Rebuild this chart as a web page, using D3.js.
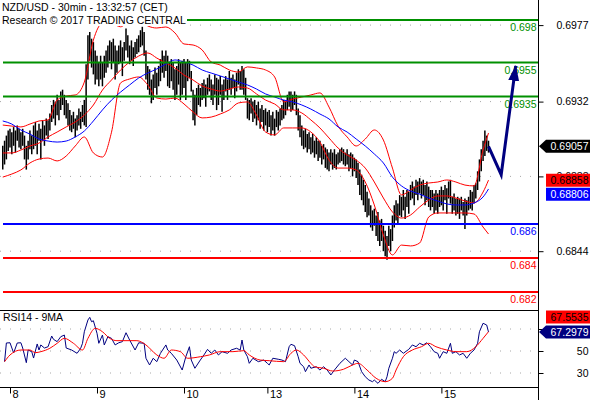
<!DOCTYPE html>
<html><head><meta charset="utf-8">
<script src="https://cdn.jsdelivr.net/npm/d3@7"></script>
<style>body{margin:0;background:#fff}svg{display:block;font-family:"Liberation Sans",Arial,sans-serif}</style>
</head><body><svg id="c" width="590" height="400"></svg>
<script>
// ---- data (prices in 1/10000 units) ----
const barHigh = [
6906,6909,6912,6915,6916,6914,6917,6915,6918,6916,
6914,6916,6912,6906,6909,6915,6912,6918,6920,6915,
6919,6916,6921,6918,6922,6921,6925,6930,6933,6932,
6936,6933,6938,6939,6936,6933,6931,6927,6924,6926,
6922,6924,6928,6926,6930,6933,6954,6971,6973,6969,
6967,6962,6959,6955,6959,6955,6959,6962,6965,6968,
6967,6969,6965,6962,6965,6968,6964,6967,6975,6971,
6965,6968,6964,6967,6969,6971,6974,6976,6973,6962,
6953,6951,6945,6948,6952,6949,6953,6957,6962,6959,
6962,6959,6955,6957,6955,6951,6953,6957,6955,6956,
6957,6955,6957,6956,6950,6939,6936,6940,6942,6940,
6943,6945,6942,6946,6948,6945,6942,6948,6946,6945,
6947,6942,6945,6947,6945,6950,6946,6948,6945,6949,
6951,6950,6953,6951,6946,6934,6933,6934,6932,6933,
6930,6932,6928,6930,6927,6928,6926,6927,6924,6926,
6922,6927,6926,6928,6930,6933,6932,6936,6938,6938,
6936,6938,6936,6928,6924,6918,6915,6916,6913,6914,
6911,6913,6909,6911,6909,6909,6906,6907,6905,6904,
6902,6904,6902,6904,6901,6902,6904,6905,6904,6902,
6904,6901,6902,6901,6899,6898,6896,6892,6889,6886,
6883,6879,6875,6871,6868,6869,6865,6867,6862,6863,
6859,6856,6853,6859,6857,6865,6871,6874,6872,6877,
6876,6880,6876,6880,6879,6883,6885,6882,6886,6885,
6887,6885,6886,6883,6885,6882,6880,6880,6878,6880,
6878,6880,6882,6880,6883,6881,6885,6886,6876,6878,
6875,6876,6875,6876,6873,6875,6874,6876,6880,6879,
6883,6884,6891,6898,6904,6909,6915,6912,6909];
const barLow = [
6892,6895,6898,6903,6905,6901,6906,6902,6909,6905,
6904,6906,6898,6892,6898,6904,6901,6904,6906,6901,
6909,6898,6909,6906,6912,6910,6915,6920,6922,6918,
6924,6921,6927,6930,6924,6922,6918,6915,6914,6916,
6911,6915,6918,6916,6920,6918,6917,6945,6956,6952,
6948,6942,6945,6941,6945,6941,6946,6949,6952,6956,
6951,6955,6945,6949,6954,6955,6947,6956,6962,6958,
6954,6956,6953,6958,6960,6961,6964,6965,6959,6945,
6939,6936,6931,6933,6940,6936,6941,6944,6949,6946,
6950,6941,6940,6944,6939,6933,6936,6942,6933,6936,
6940,6933,6944,6946,6938,6921,6918,6924,6930,6929,
6933,6934,6929,6936,6938,6933,6930,6936,6927,6930,
6936,6926,6933,6938,6933,6939,6936,6940,6934,6938,
6942,6939,6939,6936,6933,6922,6921,6925,6920,6922,
6918,6921,6916,6920,6915,6918,6914,6917,6912,6915,
6912,6917,6915,6918,6921,6922,6924,6927,6929,6926,
6927,6930,6924,6915,6911,6906,6904,6905,6902,6904,
6901,6902,6899,6901,6897,6899,6895,6898,6893,6892,
6891,6895,6892,6893,6892,6895,6896,6897,6895,6894,
6895,6891,6893,6888,6891,6887,6883,6877,6874,6871,
6867,6864,6865,6858,6856,6859,6853,6850,6847,6850,
6844,6841,6839,6847,6844,6850,6858,6862,6860,6865,
6864,6868,6863,6870,6866,6874,6875,6871,6877,6874,
6878,6875,6877,6871,6874,6870,6868,6870,6866,6868,
6866,6870,6871,6868,6874,6866,6875,6872,6866,6868,
6865,6866,6863,6868,6865,6857,6865,6868,6869,6868,
6872,6875,6880,6885,6891,6897,6900,6903,6902];
const lastClose = 0.69057;

const indBars = [0,5,10,15,20,25,30,35,40,45,50,55,60,65,70,75,80,85,90,95,100,105,110,115,120,125,130,135,140,145,150,155,160,165,170,175,180,185,190,195,200,205,210,215,220,225,230,235,240,245,250,255,260,265,268];
const bbUpper = [6918.2,6917.6,6917.1,6918.8,6920.6,6921.2,6932.9,6935.3,6935.9,6943.5,6968.2,6978,6978,6976,6980,6981.2,6976.5,6975.3,6975.9,6972.4,6965.9,6965.3,6962.4,6955.3,6953.5,6950.6,6949.4,6952.4,6951.8,6950.6,6946.5,6931.8,6933.5,6934.7,6935.9,6937.1,6928.8,6917.6,6911.2,6905.9,6910,6915.3,6909.4,6892.9,6877.1,6880,6882.9,6884.1,6884.7,6885.9,6884.7,6882.9,6882.4,6903.5,6913.5];
const bbMiddle = [6901.8,6901.8,6903.5,6905.9,6907.6,6911.2,6914.1,6917.1,6920,6924.1,6930,6938.8,6944.7,6950.6,6955.3,6958.8,6960.6,6957.6,6954.7,6951.8,6947.6,6944.7,6941.2,6939.4,6938.2,6939.4,6940.6,6940,6936.5,6932.9,6930.6,6927.1,6927.1,6925.3,6921.2,6916.5,6910.6,6904.7,6900.6,6897.6,6892.9,6884.7,6875.3,6867.1,6863.5,6865.3,6870,6874.1,6876.5,6876.5,6875.3,6873.5,6872.4,6878.8,6885.8];
const bbLower = [6887.6,6889.4,6891.8,6895.9,6898.2,6898.8,6897.1,6900,6905.9,6911.2,6901.8,6899.4,6914,6943,6945.3,6946.5,6941.8,6934.1,6933.5,6934.1,6930.6,6925.9,6922.4,6922.9,6924.7,6927.1,6931.2,6931.8,6924.1,6914.1,6912.4,6916.5,6916.5,6916.5,6914.1,6908.2,6897.6,6892.9,6892.9,6891.8,6884.7,6871.2,6853.5,6841.8,6847.6,6847.1,6848.8,6864.1,6866.5,6866.5,6866.5,6866.5,6865.9,6858.2,6854.1];
const maLine = [6920.6,6918.8,6915.3,6912.9,6910,6908.8,6908.2,6908.8,6911.2,6914.7,6920.6,6927.1,6932.9,6937.6,6941.8,6945.9,6948.8,6951.2,6954.1,6956.5,6955.3,6953.5,6950.6,6948.8,6947.1,6945.3,6943.5,6941.8,6939.4,6936.5,6934.7,6932.9,6931.8,6930,6927.6,6924.7,6921.8,6917.1,6914.1,6910,6905.9,6901.2,6895.9,6887.6,6882.4,6879.4,6877.6,6875.3,6873.5,6871.8,6871.2,6871.2,6872.4,6875.9,6880.6];

const rsiBars = [1,2,4,6,8,10,11,13,14,16,17,19,20,21,23,25,27,28,30,32,34,35,38,41,43,44,45,47,48,49,50,52,53,55,56,58,60,62,64,66,68,70,73,75,78,79,81,83,85,87,90,91,93,96,99,101,103,104,106,109,111,113,115,117,119,121,124,126,129,131,132,133,135,136,138,141,144,146,147,149,152,154,156,158,159,161,163,164,166,167,169,170,173,175,177,179,181,183,186,189,191,193,194,196,198,200,202,204,205,207,209,211,212,213,215,216,217,219,221,224,226,228,230,232,234,236,238,240,241,243,245,247,248,250,252,254,256,258,260,262,263,265,267,268];
const rsiVals = [40.3,57.3,57.5,48.2,57.3,57.5,52.7,39.4,50.9,49.4,43.6,56.4,50.9,55.5,52.7,53.9,63.6,60.6,58.5,63,64.5,52.7,50.9,47.9,52.5,57,67.5,78.2,80.6,76.6,77.5,66.1,57,64.5,55.5,63,61.5,55.5,57.5,58.5,66.6,60,50.9,57.5,57,43.4,37.3,43.4,40.3,47.9,55.5,50.9,47.9,41.8,32.7,44.8,53.9,41.8,34.3,41.8,46.4,51.5,47.9,50.9,46.4,49.4,47.9,50.9,52.5,50.9,60,50.9,44.8,38.8,43.4,40.3,41.8,38.8,37.3,43.4,42.5,41.8,40.3,53.9,56.1,54.8,44.8,38.8,35.7,31.2,37.3,34.3,35.7,32.7,35.7,32.7,28.2,32.7,38.8,43.4,40.3,37.3,41.8,40.3,31.2,26.6,23.6,22.1,23.6,20.6,24.3,22.1,26.6,34.3,43.4,49.4,47.9,50.9,47.9,51.5,55.5,53.9,57,55.5,57.5,53.9,49.4,47.9,43.4,49.4,47.9,57,47.9,49.4,46.4,47.9,43.4,47.9,50.9,57,67.5,75.2,73.6,67.2979];
const sigBars = [1,4,10,15,18,21,26,30,34,39,44,47,51,55,59,63,68,74,79,85,89,93,98,102,109,114,120,127,133,136,142,147,155,159,162,166,170,172,177,182,188,193,196,201,206,211,215,217,221,226,231,235,239,245,250,256,261,265,268];
const sigVals = [40.3,46.4,50.9,50.9,48.5,49.4,52.5,57,61.5,57,50.9,61.5,70.6,67.5,61.5,59.4,59.4,59.4,55.5,46.4,43.4,50.9,49.4,43.4,44.8,46.4,49.4,49.4,50.3,46.4,41.8,41.2,40.3,47.9,50.9,46.4,38.8,35.7,34.3,31.8,33.4,37.3,38.8,32.7,25.2,22.1,25.2,32.7,44.8,50.9,53.9,57,53.9,50.9,49.4,49.4,53.9,61.5,67.5535];

const levels = [0.698, 0.6955, 0.6935, 0.686, 0.684, 0.682];
const levelKinds = ["res","res","res","pivot","sup","sup"];
const forecastBars = [268, 275, 283];
const forecastPrices = [0.69057, 0.6889, 0.6953];

const dayBars = [4, 52, 100, 146, 194, 242];
const dayLabels = ["8","9","10","13","14","15"];
const priceTicks = [0.6977, 0.6932, 0.6888, 0.6844];
const rsiTicks = [70, 50, 30];
const rsiTickLabels = ["", "50", "30"]; // the 70 label sits under the RSI value tag

// ---- setup ----
const P = v => v / 10000;
const kindColor = {res:"#009000", pivot:"#0000ff", sup:"#ff0000"};
const svg = d3.select("#c");
const FS = "10.5px";
const x = d3.scaleLinear().domain([0, 296]).range([2.75, 539.25]);
const y = d3.scaleLinear().domain([0.698, 0.684]).range([20, 258]);
const yr = d3.scaleLinear().domain([30, 70]).range([373, 329]);
const AX = 538;

const defs = svg.append("defs");
defs.append("clipPath").attr("id","mc").append("rect").attr("x",0).attr("y",0).attr("width",AX).attr("height",310);
defs.append("clipPath").attr("id","rc").append("rect").attr("x",0).attr("y",310).attr("width",AX).attr("height",77);
defs.append("marker").attr("id","ah").attr("viewBox","0 -6 16 12").attr("refX",15).attr("refY",0)
  .attr("markerWidth",16).attr("markerHeight",12).attr("markerUnits","userSpaceOnUse").attr("orient","auto")
  .append("path").attr("d","M0,-5.5L16,0L0,5.5Z").attr("fill","#000080");

const main = svg.append("g").attr("clip-path","url(#mc)");
const rsiG = svg.append("g").attr("clip-path","url(#rc)");

// grid
main.selectAll("line.g").data(priceTicks).join("line").attr("class","g")
  .attr("x1",0).attr("x2",AX).attr("y1",d=>y(d)).attr("y2",d=>y(d))
  .attr("stroke","#a8a8a8").attr("stroke-dasharray","1,9");
rsiG.selectAll("line.g").data(rsiTicks).join("line").attr("class","g")
  .attr("x1",0).attr("x2",AX).attr("y1",d=>yr(d)).attr("y2",d=>yr(d))
  .attr("stroke","#a8a8a8").attr("stroke-dasharray","1,9");

// bars
main.append("g").selectAll("line").data(barHigh).join("line")
  .attr("x1",(d,i)=>x(i)).attr("x2",(d,i)=>x(i))
  .attr("y1",d=>y(P(d))).attr("y2",(d,i)=>y(P(barLow[i])))
  .attr("stroke","#000").attr("stroke-width",1.5);

// indicators
const ind = arr => d3.line().x((d,i)=>x(indBars[i])).y(d=>y(P(d))).curve(d3.curveMonotoneX)(arr);
[bbUpper, bbMiddle, bbLower].forEach(a => main.append("path").attr("d",ind(a)).attr("fill","none").attr("stroke","#ff0000").attr("stroke-width",1));
main.append("path").attr("d",ind(maLine)).attr("fill","none").attr("stroke","#0000ff").attr("stroke-width",1);

// levels
main.selectAll("line.lv").data(levels).join("line").attr("class","lv")
  .attr("x1",3).attr("x2",AX).attr("y1",d=>y(d)).attr("y2",d=>y(d))
  .attr("stroke",(d,i)=>kindColor[levelKinds[i]]).attr("stroke-width",2);
main.selectAll("text.lv").data(levels).join("text").attr("class","lv")
  .attr("x",536.5).attr("y",d=>y(d)+11).attr("text-anchor","end")
  .attr("font-size",FS).attr("fill",(d,i)=>kindColor[levelKinds[i]]).text(d=>String(d));

// forecast arrow
main.append("path")
  .attr("d", d3.line().x((d,i)=>x(forecastBars[i])).y(d=>y(d))(forecastPrices))
  .attr("fill","none").attr("stroke","#000080").attr("stroke-width",3).attr("stroke-linejoin","miter")
  .attr("marker-end","url(#ah)");

// title
svg.append("rect").attr("x",0).attr("y",0).attr("width",187).attr("height",26).attr("fill","#fff");
svg.append("text").attr("x",2).attr("y",11).attr("font-size",FS).text("NZD/USD - 30min - 13:32:57 (CET)");
svg.append("text").attr("x",2).attr("y",24).attr("font-size",FS).text("Research \u00A9 2017 TRADING CENTRAL");

// RSI
rsiG.append("path").attr("d", d3.line().x((d,i)=>x(rsiBars[i])).y(d=>yr(d))(rsiVals))
  .attr("fill","none").attr("stroke","#000080").attr("stroke-width",1);
rsiG.append("path").attr("d", d3.line().x((d,i)=>x(sigBars[i])).y(d=>yr(d)).curve(d3.curveMonotoneX)(sigVals))
  .attr("fill","none").attr("stroke","#ff0000").attr("stroke-width",1);
svg.append("text").attr("x",3).attr("y",321).attr("font-size",FS).text("RSI14 - 9MA");

// frame lines
svg.append("line").attr("x1",0).attr("x2",AX).attr("y1",310.5).attr("y2",310.5).attr("stroke","#000");
svg.append("line").attr("x1",0).attr("x2",AX).attr("y1",387.5).attr("y2",387.5).attr("stroke","#000");
svg.append("line").attr("x1",AX+0.5).attr("x2",AX+0.5).attr("y1",0).attr("y2",400).attr("stroke","#000");

// axes
function styleRight(g){
  g.select(".domain").remove();
  g.selectAll(".tick line").attr("stroke","#000");
  g.selectAll(".tick text").attr("x",50).attr("text-anchor","end").attr("font-size",FS)
    .attr("font-family","Liberation Sans, Arial, sans-serif").attr("fill","#000");
}
svg.append("g").attr("transform",`translate(${AX+0.5},0)`)
  .call(d3.axisRight(y).tickValues(priceTicks).tickSize(5).tickFormat(d3.format(".4f"))).call(styleRight);
svg.append("g").attr("transform",`translate(${AX+0.5},0)`)
  .call(d3.axisRight(yr).tickValues(rsiTicks).tickSize(5).tickFormat((d,i)=>rsiTickLabels[i])).call(styleRight);
const bx = svg.append("g").attr("transform","translate(0,387.5)")
  .call(d3.axisBottom(x).tickValues(dayBars).tickSize(6).tickFormat((d,i)=>dayLabels[i]));
bx.select(".domain").remove();
bx.selectAll(".tick line").attr("stroke","#000");
bx.selectAll(".tick text").attr("x",2).attr("y",3).attr("text-anchor","start").attr("font-size","11px")
  .attr("font-family","Liberation Sans, Arial, sans-serif").attr("fill","#000");

// value tags
function tag(yc, txt, fill, color, arrow){
  const t = yc - 6.5, b = yc + 6.5;
  const d = arrow ? `M539,${yc}L546,${t}L590,${t}L590,${b}L546,${b}Z` : `M546,${t}L590,${t}L590,${b}L546,${b}Z`;
  svg.append("path").attr("d",d).attr("fill",fill);
  svg.append("text").attr("x",588.5).attr("y",yc+3.8).attr("text-anchor","end").attr("font-size",FS).attr("fill",color).text(txt);
}
const fmt5 = d3.format(".5f"), fmt4 = d3.format(".4f");
const cY = y(lastClose);
const midY = y(P(bbMiddle[bbMiddle.length-1]));
const maY = Math.max(y(P(maLine[maLine.length-1])), midY + 14);
tag(cY, fmt5(lastClose), "#000", "#fff", true);
tag(midY, fmt5(P(bbMiddle[bbMiddle.length-1])), "#ff0000", "#000", false);
tag(maY, fmt5(P(maLine[maLine.length-1])), "#0000ff", "#fff", false);
const rY = yr(rsiVals[rsiVals.length-1]);
const sY = Math.min(yr(sigVals[sigVals.length-1]), rY - 15);
tag(sY, fmt4(sigVals[sigVals.length-1]), "#ff0000", "#000", false);
tag(rY, fmt4(rsiVals[rsiVals.length-1]), "#000080", "#fff", true);
</script></body></html>
